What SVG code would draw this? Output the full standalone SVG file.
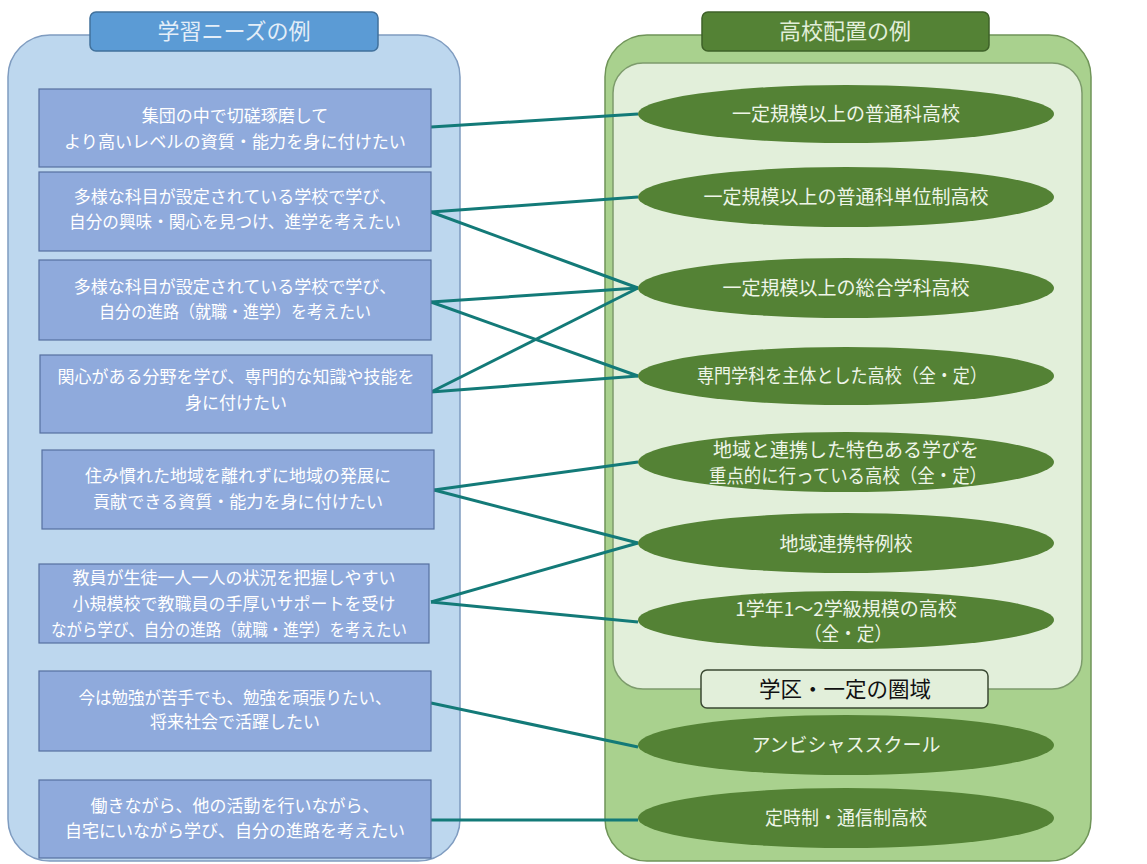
<svg xmlns="http://www.w3.org/2000/svg" width="1147" height="864" viewBox="0 0 1147 864">
<style>
text{font-family:"Noto Sans CJK JP","Noto Sans",sans-serif;text-anchor:middle}
.panelL{fill:#bdd7ee;stroke:#7f9cc0;stroke-width:1.5}
.panelR{fill:#a9d18e;stroke:#6f9458;stroke-width:1.5}
.inner{fill:#e2efda;stroke:#7d9b6c;stroke-width:1.5}
.hdrL{fill:#5b9bd5;stroke:#41719c;stroke-width:1.5}
.hdrR{fill:#548235;stroke:#3e6128;stroke-width:1.5}
.hdrT{fill:#e4eef8;font-size:22px}
.hdrTR{fill:#e2efda;font-size:22px}
.box{fill:#8faadc;stroke:#5670a0;stroke-width:1.2}
.bt{fill:#ffffff;font-size:17px}
.ell{fill:#548235}
.et{fill:#eef5e8;font-size:19px}
.area{fill:#e2efda;stroke:#3b4a33;stroke-width:1.5}
.at{fill:#111111;font-size:22px}
.conn path{fill:none;stroke:#137a78;stroke-width:3}
</style>
<rect width="1147" height="864" fill="#ffffff"/>
<g id="panel-needs">
<rect class="panelL" x="8" y="35" width="452" height="826" rx="42"/>
</g>
<g id="panel-schools">
<rect class="panelR" x="605" y="35" width="486" height="826" rx="42"/>
<rect class="inner" x="613" y="63" width="469" height="626" rx="30"/>
</g>
<g id="header-needs">
<rect class="hdrL" x="90" y="12" width="288" height="39" rx="6"/>
<text class="hdrT" x="234" y="39">学習ニーズの例</text>
</g>
<g id="header-schools">
<rect class="hdrR" x="702" y="12" width="287" height="39" rx="6"/>
<text class="hdrTR" x="845" y="39">高校配置の例</text>
</g>
<g id="area-label">
<rect class="area" x="701" y="670" width="287" height="38" rx="6"/>
<text class="at" x="845" y="697" textLength="172" lengthAdjust="spacingAndGlyphs">学区・一定の圏域</text>
</g>
<g class="conn" id="connectors">
<path d="M431,127 L638,114"/>
<path d="M431,212 L638,197"/>
<path d="M431,212 L638,288"/>
<path d="M431,302 L638,288"/>
<path d="M431,302 L638,376"/>
<path d="M431,392 L638,288"/>
<path d="M431,392 L638,376"/>
<path d="M434,490 L638,462"/>
<path d="M434,490 L638,543"/>
<path d="M431,602 L638,543"/>
<path d="M431,602 L638,622"/>
<path d="M431,703 L638,747"/>
<path d="M431,820 L638,820"/>
</g>
<g id="need1"><rect class="box" x="39" y="89" width="392" height="78"/>
<text class="bt" x="235" y="122">集団の中で切磋琢磨して</text>
<text class="bt" x="235" y="148" textLength="342" lengthAdjust="spacingAndGlyphs">より高いレベルの資質・能力を身に付けたい</text></g>
<g id="need2"><rect class="box" x="39" y="172" width="392" height="79"/>
<text class="bt" x="235" y="203">多様な科目が設定されている学校で学び、</text>
<text class="bt" x="235" y="228" textLength="332" lengthAdjust="spacingAndGlyphs">自分の興味・関心を見つけ、進学を考えたい</text></g>
<g id="need3"><rect class="box" x="39" y="260" width="392" height="80"/>
<text class="bt" x="235" y="293">多様な科目が設定されている学校で学び、</text>
<text class="bt" x="235" y="318" textLength="272" lengthAdjust="spacingAndGlyphs">自分の進路（就職・進学）を考えたい</text></g>
<g id="need4"><rect class="box" x="40" y="355" width="392" height="78"/>
<text class="bt" x="236" y="383">関心がある分野を学び、専門的な知識や技能を</text>
<text class="bt" x="236" y="409">身に付けたい</text></g>
<g id="need5"><rect class="box" x="42" y="450" width="392" height="79"/>
<text class="bt" x="238" y="482">住み慣れた地域を離れずに地域の発展に</text>
<text class="bt" x="238" y="508" textLength="290" lengthAdjust="spacingAndGlyphs">貢献できる資質・能力を身に付けたい</text></g>
<g id="need6"><rect class="box" x="39" y="564" width="390" height="79"/>
<text class="bt" x="234" y="584">教員が生徒一人一人の状況を把握しやすい</text>
<text class="bt" x="234" y="610">小規模校で教職員の手厚いサポートを受け</text>
<text class="bt" x="229" y="636" textLength="356" lengthAdjust="spacingAndGlyphs">ながら学び、自分の進路（就職・進学）を考えたい</text></g>
<g id="need7"><rect class="box" x="39" y="671" width="392" height="80"/>
<text class="bt" x="235" y="704" textLength="313" lengthAdjust="spacingAndGlyphs">今は勉強が苦手でも、勉強を頑張りたい、</text>
<text class="bt" x="235" y="728">将来社会で活躍したい</text></g>
<g id="need8"><rect class="box" x="39" y="780" width="392" height="78"/>
<text class="bt" x="235" y="812">働きながら、他の活動を行いながら、</text>
<text class="bt" x="235" y="837">自宅にいながら学び、自分の進路を考えたい</text></g>
<g id="school1"><ellipse class="ell" cx="846" cy="114" rx="208" ry="29"/>
<text class="et" x="846" y="121">一定規模以上の普通科高校</text></g>
<g id="school2"><ellipse class="ell" cx="846" cy="197" rx="208" ry="30"/>
<text class="et" x="846" y="204">一定規模以上の普通科単位制高校</text></g>
<g id="school3"><ellipse class="ell" cx="846" cy="288" rx="208" ry="30"/>
<text class="et" x="846" y="295">一定規模以上の総合学科高校</text></g>
<g id="school4"><ellipse class="ell" cx="846" cy="376" rx="208" ry="29"/>
<text class="et" x="842" y="383" textLength="290" lengthAdjust="spacingAndGlyphs">専門学科を主体とした高校（全・定）</text></g>
<g id="school5"><ellipse class="ell" cx="846" cy="462" rx="208" ry="30"/>
<text class="et" x="846" y="457">地域と連携した特色ある学びを</text>
<text class="et" x="848" y="483" textLength="278" lengthAdjust="spacingAndGlyphs">重点的に行っている高校（全・定）</text></g>
<g id="school6"><ellipse class="ell" cx="846" cy="543" rx="208" ry="30"/>
<text class="et" x="846" y="551">地域連携特例校</text></g>
<g id="school7"><ellipse class="ell" cx="846" cy="620" rx="208" ry="29"/>
<text class="et" x="846" y="616">1学年1～2学級規模の高校</text>
<text class="et" x="848" y="641" textLength="88" lengthAdjust="spacingAndGlyphs">（全・定）</text></g>
<g id="school8"><ellipse class="ell" cx="846" cy="745" rx="208" ry="30"/>
<text class="et" x="846" y="752">アンビシャススクール</text></g>
<g id="school9"><ellipse class="ell" cx="846" cy="818" rx="208" ry="30"/>
<text class="et" x="846" y="825" textLength="162" lengthAdjust="spacingAndGlyphs">定時制・通信制高校</text></g>
</svg>
